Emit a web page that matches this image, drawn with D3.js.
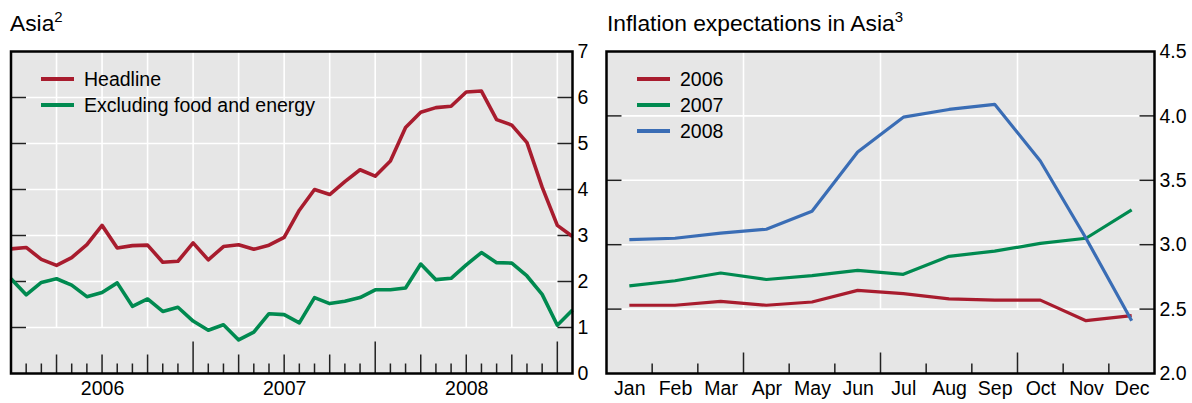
<!DOCTYPE html>
<html><head><meta charset="utf-8">
<script src="https://cdn.jsdelivr.net/npm/d3@7"></script>
<style>
html,body{margin:0;padding:0;background:#fff;}
svg{display:block;font-family:"Liberation Sans",Arial,Helvetica,sans-serif;}
</style></head>
<body><svg id="chart" width="1192" height="403"></svg>
<script>
// ---------- data ----------
const leftMonths = ["2006-01","2006-02","2006-03","2006-04","2006-05","2006-06","2006-07","2006-08","2006-09","2006-10","2006-11","2006-12",
  "2007-01","2007-02","2007-03","2007-04","2007-05","2007-06","2007-07","2007-08","2007-09","2007-10","2007-11","2007-12",
  "2008-01","2008-02","2008-03","2008-04","2008-05","2008-06","2008-07","2008-08","2008-09","2008-10","2008-11","2008-12",
  "2009-01","2009-02"];
const headline = [2.71,2.74,2.48,2.35,2.52,2.80,3.22,2.73,2.78,2.79,2.42,2.44,
  2.84,2.47,2.76,2.80,2.70,2.79,2.96,3.55,4.00,3.89,4.17,4.43,
  4.29,4.62,5.35,5.68,5.78,5.81,6.12,6.14,5.52,5.40,5.02,4.05,
  3.22,2.98];
const exFoodEnergy = [2.06,1.71,1.98,2.06,1.92,1.67,1.76,1.97,1.46,1.62,1.35,1.44,
  1.14,0.94,1.06,0.73,0.90,1.30,1.28,1.10,1.65,1.52,1.57,1.65,
  1.82,1.82,1.86,2.38,2.04,2.07,2.36,2.63,2.41,2.40,2.12,1.72,
  1.05,1.38];
const yearLabels = ["2006","2007","2008"];
const yearLabelMonths = ["2006-07","2007-07","2008-07"];
const leftYTicks = [0,1,2,3,4,5,6,7];

const monthLabels = ["Jan","Feb","Mar","Apr","May","Jun","Jul","Aug","Sep","Oct","Nov","Dec"];
const exp2006 = [2.53,2.53,2.56,2.53,2.555,2.645,2.62,2.58,2.57,2.57,2.41,2.45];
const exp2007 = [2.68,2.72,2.78,2.73,2.76,2.80,2.77,2.91,2.95,3.01,3.05,3.27];
const exp2008 = [3.04,3.05,3.09,3.12,3.26,3.72,3.99,4.05,4.09,3.65,3.05,2.41];
const rightYTicks = [2.0,2.5,3.0,3.5,4.0,4.5];

// ---------- styles ----------
const RED = "#a81c2e", GREEN = "#008a50", BLUE = "#3a6db5";
const BG = "#e6e6e6";
const FONT = 19.5;

const svg = d3.select("#chart");

// ---------- panel geometry ----------
const plotTop = 51.5, plotBottom = 373.5;

function frame(x0, x1) {
  svg.append("rect").attr("x", x0).attr("y", plotTop).attr("width", x1 - x0).attr("height", plotBottom - plotTop)
    .attr("fill", BG);
}
function border(x0, x1) {
  svg.append("rect").attr("x", x0).attr("y", plotTop).attr("width", x1 - x0).attr("height", plotBottom - plotTop)
    .attr("fill", "none").attr("stroke", "#000").attr("stroke-width", 2.5);
}
function title(x, main, sup) {
  const t = svg.append("text").attr("x", x).attr("y", 31).attr("font-size", 22.8).attr("fill", "#000");
  t.append("tspan").text(main);
  t.append("tspan").attr("font-size", 15).attr("dy", -9).text(sup);
}
function legend(x, y0, items) {
  items.forEach((it, i) => {
    const y = y0 + i * 26;
    svg.append("line").attr("x1", x).attr("x2", x + 33).attr("y1", y).attr("y2", y)
      .attr("stroke", it.color).attr("stroke-width", 4);
    svg.append("text").attr("x", x + 43).attr("y", y).attr("dy", "0.35em")
      .attr("font-size", FONT).attr("fill", "#000").text(it.label);
  });
}

// ================= LEFT PANEL =================
{
  const x0 = 11, x1 = 572.5;
  const x = d3.scalePoint().domain(leftMonths).range([x0, x1]);
  const y = d3.scaleLinear().domain([0, 7]).range([plotBottom, plotTop]);
  frame(x0, x1);
  const g = svg.append("g");
  const hv = leftYTicks.filter(v => v > 0 && v < 7);
  g.selectAll(".hg").data(hv).enter().append("line")
    .attr("x1", x0).attr("x2", x1).attr("y1", d => y(d)).attr("y2", d => y(d))
    .attr("stroke", "#fff").attr("stroke-width", 1.6);
  const qMonths = leftMonths.filter((m, i) => i > 0 && i < leftMonths.length - 1 && i % 3 === 0);
  g.selectAll(".vg").data(qMonths).enter().append("line")
    .attr("x1", d => x(d)).attr("x2", d => x(d)).attr("y1", plotTop).attr("y2", y(1))
    .attr("stroke", "#fff").attr("stroke-width", 1.6);
  g.selectAll(".ytl").data(hv).enter().append("line")
    .attr("x1", x0).attr("x2", x0 + 15).attr("y1", d => y(d)).attr("y2", d => y(d))
    .attr("stroke", "#222").attr("stroke-width", 1.5);
  g.selectAll(".ytr").data(hv).enter().append("line")
    .attr("x1", x1 - 15).attr("x2", x1).attr("y1", d => y(d)).attr("y2", d => y(d))
    .attr("stroke", "#222").attr("stroke-width", 1.5);
  const tMonths = leftMonths.filter((m, i) => i > 0 && i < leftMonths.length - 1);
  g.selectAll(".xt").data(tMonths).enter().append("line")
    .attr("x1", d => x(d)).attr("x2", d => x(d))
    .attr("y1", plotBottom).attr("y2", d => {
      const i = leftMonths.indexOf(d);
      return plotBottom - (i % 12 === 0 ? 32 : (i % 3 === 0 ? 19 : 10));
    })
    .attr("stroke", "#222").attr("stroke-width", 1.5);
  const line = d3.line().x((d, i) => x(leftMonths[i])).y(d => y(d));
  g.append("path").datum(headline).attr("d", line).attr("fill", "none")
    .attr("stroke", RED).attr("stroke-width", 3.6).attr("stroke-linejoin", "round");
  g.append("path").datum(exFoodEnergy).attr("d", line).attr("fill", "none")
    .attr("stroke", GREEN).attr("stroke-width", 3.6).attr("stroke-linejoin", "round");
  border(x0, x1);
  const ya = svg.append("g").attr("transform", `translate(${x1},0)`)
    .call(d3.axisRight(y).tickValues(leftYTicks).tickSize(0).tickPadding(5).tickFormat(d3.format("d")));
  ya.select(".domain").remove();
  ya.selectAll("text").attr("font-size", FONT).attr("fill", "#000").attr("font-family", null);
  const xa = svg.append("g").attr("transform", `translate(0,${plotBottom})`)
    .call(d3.axisBottom(x).tickValues(yearLabelMonths).tickSize(0).tickPadding(8)
      .tickFormat(d => yearLabels[yearLabelMonths.indexOf(d)]));
  xa.select(".domain").remove();
  xa.selectAll("text").attr("font-size", FONT).attr("fill", "#000").attr("font-family", null);
  title(10, "Asia", "2");
  legend(41, 79, [{label: "Headline", color: RED}, {label: "Excluding food and energy", color: GREEN}]);
}

// ================= RIGHT PANEL =================
{
  const x0 = 606.5, x1 = 1154.5;
  const xi = d3.scaleLinear().domain([-0.5, 11.5]).range([x0, x1]);
  const x = d3.scalePoint().domain(monthLabels).range([xi(0), xi(11)]);
  const y = d3.scaleLinear().domain([2.0, 4.5]).range([plotBottom, plotTop]);
  frame(x0, x1);
  const g = svg.append("g");
  const hv = rightYTicks.filter(v => v > 2.0 && v < 4.5);
  g.selectAll(".hg").data(hv).enter().append("line")
    .attr("x1", x0).attr("x2", x1).attr("y1", d => y(d)).attr("y2", d => y(d))
    .attr("stroke", "#fff").attr("stroke-width", 1.6);
  const bounds = d3.range(0.5, 11, 1);
  g.selectAll(".vg").data(bounds.filter(b => (b + 0.5) % 3 === 0)).enter().append("line")
    .attr("x1", d => xi(d)).attr("x2", d => xi(d)).attr("y1", plotTop).attr("y2", y(2.5))
    .attr("stroke", "#fff").attr("stroke-width", 1.6);
  g.selectAll(".ytl").data(hv).enter().append("line")
    .attr("x1", x0).attr("x2", x0 + 15).attr("y1", d => y(d)).attr("y2", d => y(d))
    .attr("stroke", "#222").attr("stroke-width", 1.5);
  g.selectAll(".ytr").data(hv).enter().append("line")
    .attr("x1", x1 - 15).attr("x2", x1).attr("y1", d => y(d)).attr("y2", d => y(d))
    .attr("stroke", "#222").attr("stroke-width", 1.5);
  g.selectAll(".xt").data(bounds).enter().append("line")
    .attr("x1", d => xi(d)).attr("x2", d => xi(d))
    .attr("y1", plotBottom).attr("y2", d => plotBottom - ((d + 0.5) % 3 === 0 ? 21 : 10))
    .attr("stroke", "#222").attr("stroke-width", 1.5);
  const line = d3.line().x((d, i) => x(monthLabels[i])).y(d => y(d));
  [[exp2006, RED], [exp2007, GREEN], [exp2008, BLUE]].forEach(([s, c]) => {
    g.append("path").datum(s).attr("d", line).attr("fill", "none")
      .attr("stroke", c).attr("stroke-width", 3.2).attr("stroke-linejoin", "round");
  });
  border(x0, x1);
  const ya = svg.append("g").attr("transform", `translate(${x1},0)`)
    .call(d3.axisRight(y).tickValues(rightYTicks).tickSize(0).tickPadding(5).tickFormat(d3.format(".1f")));
  ya.select(".domain").remove();
  ya.selectAll("text").attr("font-size", FONT).attr("fill", "#000").attr("font-family", null);
  const xa = svg.append("g").attr("transform", `translate(0,${plotBottom})`)
    .call(d3.axisBottom(x).tickSize(0).tickPadding(8));
  xa.select(".domain").remove();
  xa.selectAll("text").attr("font-size", FONT).attr("fill", "#000").attr("font-family", null);
  title(607, "Inflation expectations in Asia", "3");
  legend(637, 79, [{label: "2006", color: RED}, {label: "2007", color: GREEN}, {label: "2008", color: BLUE}]);
}
</script></body></html>
